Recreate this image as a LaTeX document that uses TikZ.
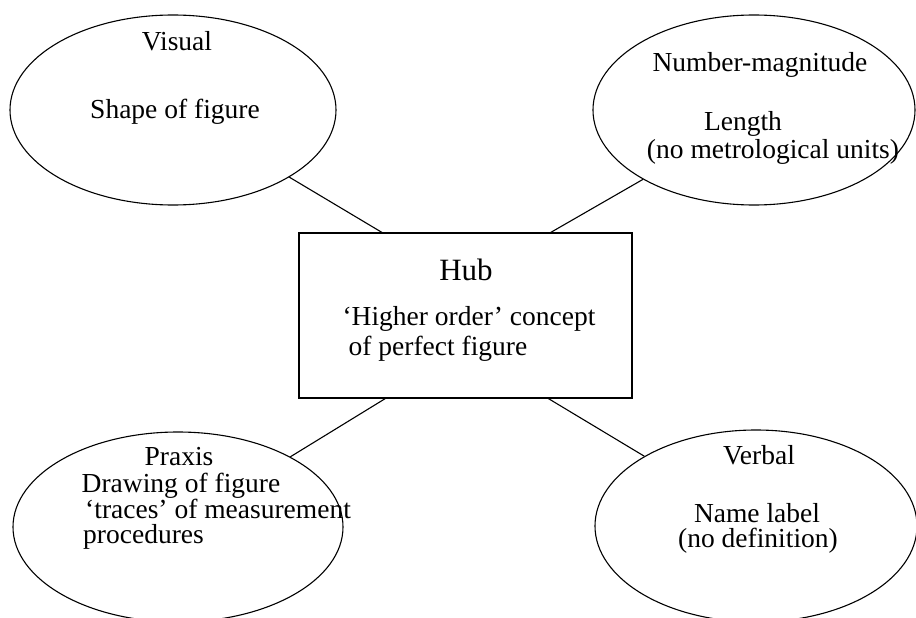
\documentclass[tikz,border=0pt]{standalone}
\usepackage{fontspec}
\setmainfont{Liberation Serif}
\usetikzlibrary{shapes.geometric,calc}
\begin{document}
\begin{tikzpicture}[x=1pt,y=1pt,
  bubble/.style={ellipse,draw,line width=1.1pt,inner sep=0pt,minimum width=326pt,minimum height=190pt},
  hubbox/.style={rectangle,draw,line width=1.1pt,inner sep=0pt,minimum width=333pt,minimum height=165pt},
  lbl/.style={anchor=base,inner sep=0pt,font=\fontsize{27.5}{30}\selectfont},
  lblw/.style={anchor=base west,inner sep=0pt,font=\fontsize{27.5}{30}\selectfont},
  big/.style={anchor=base,inner sep=0pt,font=\fontsize{31}{34}\selectfont},
  link/.style={line width=1.1pt}]
\useasboundingbox (0,0) rectangle (916,-618);
% shapes
\node[bubble] (vis) at (173,-110) {};
\node[bubble,minimum width=322pt] (num) at (754,-110) {};
\node[bubble,minimum width=330pt] (pra) at (178,-527) {};
\node[bubble,minimum width=322pt,minimum height=192pt] (ver) at (756,-526) {};
\node[hubbox] (hub) at (465.5,-315.5) {};
% texts
\node[lbl] (t1) at (177,-51) {Visual};
\node[lbl] (t2) at (175,-118) {Shape of figure};
\node[lbl] (t3) at (760,-71) {Number-magnitude};
\node[lbl] (t4) at (743,-130) {Length};
\node[lbl] (t5) at (773,-158) {(no metrological units)};
\node[big] (t6) at (466,-280) {Hub};
\node[lbl] (t7) at (469,-325) {‘Higher order’ concept};
\node[lbl] (t8) at (438,-355) {of perfect figure};
\node[lbl] (t9) at (179,-465) {Praxis};
\node[lbl] (t10) at (181,-492) {Drawing of figure};
\node[lblw] (t11) at (85,-518) {‘traces’ of measurement};
\node[lblw] (t12) at (83,-543) {procedures};
\node[lbl] (t13) at (759,-464) {Verbal};
\node[lbl] (t14) at (757,-522) {Name label};
\node[lbl] (t15) at (758,-547) {(no definition)};
% connectors
\draw[link] (vis.-30.5) -- ($(hub.north west)!0.25!(hub.north east)$);
\draw[link] (num.212.7) -- ($(hub.north west)!0.755!(hub.north east)$);
\draw[link] (pra.32.8) -- ($(hub.south west)!0.26!(hub.south east)$);
\draw[link] (ver.148.5) -- ($(hub.south west)!0.748!(hub.south east)$);
\end{tikzpicture}
\end{document}
